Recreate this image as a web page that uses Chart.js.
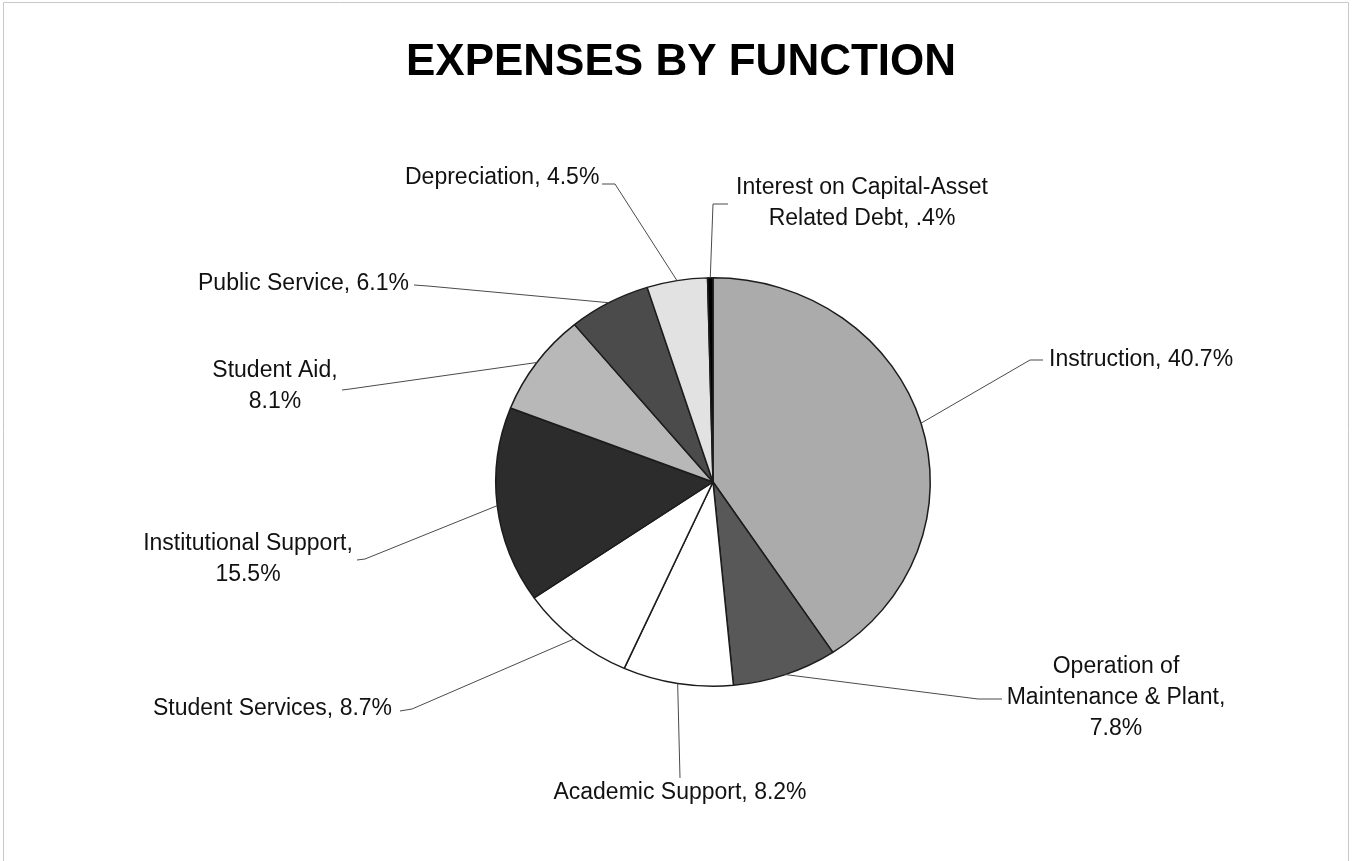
<!DOCTYPE html>
<html>
<head>
<meta charset="utf-8">
<title>Expenses by Function</title>
<script src="https://cdn.jsdelivr.net/npm/chart.js@4.4.1/dist/chart.umd.min.js"></script>
<style>
    html, body { margin: 0; padding: 0; background: #ffffff; }
    #wrap { width: 1353px; height: 861px; }
</style>
</head>
<body>
<div id="wrap"><canvas id="pie-chart" width="1353" height="861"></canvas></div>
<script>
// ---- Data ----
const categories = [
    'Instruction',
    'Operation of Maintenance & Plant',
    'Academic Support',
    'Student Services',
    'Institutional Support',
    'Student Aid',
    'Public Service',
    'Depreciation',
    'Interest on Capital-Asset Related Debt'
];
const percents = [40.7, 7.8, 8.2, 8.7, 15.5, 8.1, 6.1, 4.5, 0.4];

// ---- Styles ----
const sliceColors = ['#ababab', '#585858', '#ffffff', '#ffffff', '#2c2c2c', '#b8b8b8', '#4b4b4b', '#e2e2e2', '#000000'];
const FONT = '"Liberation Sans", Arial, Helvetica, sans-serif';
const Y_SQUASH = 0.94;   // the scanned pie is a little flatter than round

// label placement, one per slice (wrap = words per line)
const labelLayout = [
    { x: 1049, y: 360, align: 'left',   wrap: [2],       elbow: [1030, 360], tail: [1043, 360] },
    { x: 1116, y: 667, align: 'center', wrap: [2, 3, 1], elbow: [978, 699],  tail: [1002, 699] },
    { x: 680,  y: 793, align: 'center', wrap: [3],       elbow: [680, 778],  tail: null },
    { x: 153,  y: 709, align: 'left',   wrap: [3],       elbow: [412, 709],  tail: [400, 711] },
    { x: 248,  y: 544, align: 'center', wrap: [2, 1],    elbow: [365, 559],  tail: [357, 560] },
    { x: 275,  y: 371, align: 'center', wrap: [2, 1],    elbow: [350, 389],  tail: [342, 390] },
    { x: 198,  y: 284, align: 'left',   wrap: [3],       elbow: [428, 286],  tail: [414, 285] },
    { x: 405,  y: 178, align: 'left',   wrap: [2],       elbow: [615, 184],  tail: [602, 184] },
    { x: 862,  y: 188, align: 'center', wrap: [3, 3],    elbow: [713, 204],  tail: [728, 204] }
];

function fmtPct(v) {
    let s = v.toFixed(1);
    if (s.startsWith('0')) s = s.slice(1);   // ".4%" like the original
    return s + '%';
}

function labelLines(i) {
    const words = (categories[i] + ', ' + fmtPct(percents[i])).split(' ');
    const lines = [];
    let k = 0;
    labelLayout[i].wrap.forEach(function (n) {
        lines.push(words.slice(k, k + n).join(' '));
        k += n;
    });
    return lines;
}

// ---- Plugin: flatten the pie slightly ----
const squashPlugin = {
    id: 'squash',
    beforeDatasetsDraw(chart) {
        const arc = chart.getDatasetMeta(0).data[0];
        const ctx = chart.ctx;
        ctx.save();
        ctx.translate(arc.x, arc.y);
        ctx.scale(1, Y_SQUASH);
        ctx.translate(-arc.x, -arc.y);
    },
    afterDatasetsDraw(chart) {
        chart.ctx.restore();
    }
};

// ---- Plugin: title, frame, labels and leader lines ----
const annotatePlugin = {
    id: 'annotate',
    afterDraw(chart) {
        const ctx = chart.ctx;
        ctx.save();

        // faint frame of the scanned page
        ctx.strokeStyle = '#c8c8c8';
        ctx.lineWidth = 1;
        ctx.beginPath();
        ctx.moveTo(3.5, 861);
        ctx.lineTo(3.5, 2.5);
        ctx.lineTo(1348.5, 2.5);
        ctx.lineTo(1348.5, 861);
        ctx.stroke();

        // title
        ctx.fillStyle = '#000000';
        ctx.font = 'bold 44px ' + FONT;
        ctx.textAlign = 'center';
        ctx.textBaseline = 'middle';
        ctx.fillText('EXPENSES BY FUNCTION', 681, 63);

        // leader lines
        const meta = chart.getDatasetMeta(0);
        ctx.strokeStyle = '#4a4a4a';
        ctx.lineWidth = 1;
        meta.data.forEach(function (arc, i) {
            const p = arc.getProps(['x', 'y', 'startAngle', 'endAngle', 'outerRadius'], true);
            const mid = (p.startAngle + p.endAngle) / 2;
            const ax = p.x + Math.cos(mid) * p.outerRadius;
            const ay = p.y + Math.sin(mid) * p.outerRadius * Y_SQUASH;
            const lay = labelLayout[i];
            ctx.beginPath();
            ctx.moveTo(ax, ay);
            ctx.lineTo(lay.elbow[0], lay.elbow[1]);
            if (lay.tail) ctx.lineTo(lay.tail[0], lay.tail[1]);
            ctx.stroke();
        });

        // label texts
        ctx.fillStyle = '#111111';
        ctx.font = '23px ' + FONT;
        ctx.textBaseline = 'middle';
        labelLayout.forEach(function (lay, i) {
            ctx.textAlign = lay.align;
            labelLines(i).forEach(function (line, j) {
                ctx.fillText(line, lay.x, lay.y + j * 31);
            });
        });

        ctx.restore();
    }
};

// ---- Chart ----
const canvas = document.getElementById('pie-chart');
const ctx = canvas.getContext('2d');
new Chart(ctx, {
    type: 'pie',
    data: {
        labels: categories,
        datasets: [{
            data: percents,
            backgroundColor: sliceColors,
            borderColor: '#1c1c1c',
            borderWidth: 1.5
        }]
    },
    options: {
        responsive: false,
        animation: false,
        events: [],
        layout: {
            padding: { top: 264, bottom: 161, left: 300, right: 227 }
        },
        plugins: {
            legend: { display: false },
            title: { display: false },
            tooltip: { enabled: false }
        }
    },
    plugins: [squashPlugin, annotatePlugin]
});
</script>
</body>
</html>
